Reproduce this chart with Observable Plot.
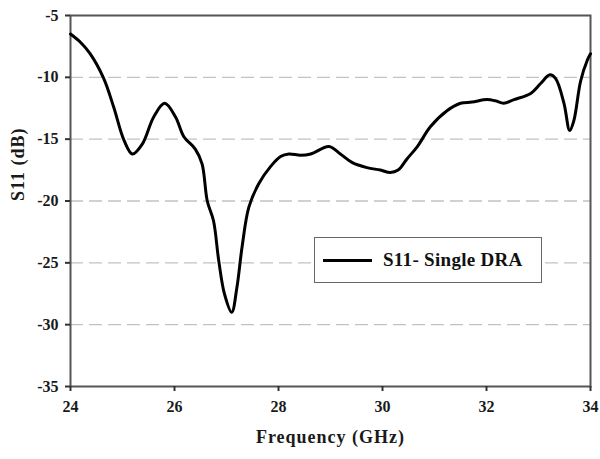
<!DOCTYPE html>
<html>
<head>
<meta charset="utf-8">
<script src="https://cdn.jsdelivr.net/npm/d3@7"></script>
<script src="https://cdn.jsdelivr.net/npm/@observablehq/plot@0.6"></script>
<style>
  html, body { margin: 0; padding: 0; background: #fff; }
  #wrap { position: relative; width: 600px; height: 459px; }
  #legend {
    position: absolute; left: 314px; top: 237px; width: 228px; height: 46px;
    border: 1.5px solid #666; background: #fff; box-sizing: border-box;
    font-family: "Liberation Serif", "Times New Roman", serif; font-weight: bold;
    font-size: 19px; letter-spacing: 0.3px; color: #111; display: flex; align-items: center;
  }
  #legend .sw { width: 49px; height: 0; border-top: 3px solid #000; margin-left: 8px; margin-right: 11px; }
</style>
</head>
<body>
<div id="wrap"></div>
<script>
const freq = [24.0, 24.2, 24.38, 24.64, 24.83, 25.03, 25.19, 25.38, 25.6, 25.81, 26.02, 26.18, 26.4, 26.53, 26.63, 26.75, 26.85, 26.96, 27.1, 27.2, 27.3, 27.43, 27.62, 27.85, 28.04, 28.2, 28.42, 28.62, 28.97, 29.19, 29.42, 29.7, 29.96, 30.15, 30.3, 30.47, 30.67, 30.92, 31.24, 31.5, 31.72, 32.01, 32.17, 32.33, 32.53, 32.85, 33.04, 33.22, 33.33, 33.49, 33.6, 33.68, 33.81, 33.94, 34.0];
const s11 = [-6.5, -7.2, -8.1, -10.1, -12.4, -15.1, -16.2, -15.4, -13.2, -12.1, -13.2, -14.8, -15.8, -17.0, -20.0, -21.6, -24.8, -27.5, -29.0, -27.0, -23.7, -20.5, -18.6, -17.2, -16.4, -16.2, -16.3, -16.2, -15.6, -16.2, -16.9, -17.3, -17.5, -17.7, -17.5, -16.6, -15.6, -14.0, -12.7, -12.1, -12.0, -11.8, -11.9, -12.1, -11.8, -11.3, -10.5, -9.8, -10.1, -12.1, -14.3, -13.5, -10.3, -8.6, -8.1];
const xTicks = [24, 26, 28, 30, 32, 34];
const yTicks = [-35, -30, -25, -20, -15, -10, -5];
const gridLines = [-30, -25, -20, -15, -10];
const xLabel = "Frequency (GHz)";
const yLabel = "S11 (dB)";
const seriesName = "S11- Single DRA";

const data = freq.map((f, i) => ({f, v: s11[i]}));
const font = "'Liberation Serif', 'Times New Roman', serif";
const fmt = d => String(d);

const chart = Plot.plot({
  width: 600,
  height: 459,
  marginLeft: 70,
  marginRight: 10,
  marginTop: 15,
  marginBottom: 73,
  style: {fontFamily: font, fontWeight: "bold", fontSize: "16px", color: "#1a1a1a", background: "#fff"},
  x: {domain: [24, 34], label: null},
  y: {domain: [-35, -5], label: null},
  marks: [
    Plot.ruleY(gridLines, {stroke: "#c2c2c2", strokeWidth: 1.3, strokeDasharray: "13,6"}),
    Plot.frame({stroke: "#555", strokeWidth: 2}),
    Plot.axisX({ticks: xTicks, tickFormat: fmt, tickSize: 5, tickPadding: 9, stroke: "#333", strokeWidth: 2, fontSize: 16, fontWeight: "bold"}),
    Plot.axisY({ticks: yTicks, tickFormat: fmt, tickSize: 5, tickPadding: 7, stroke: "#333", strokeWidth: 2, fontSize: 16, fontWeight: "bold"}),
    Plot.line(data, {x: "f", y: "v", curve: "catmull-rom", stroke: "#000", strokeWidth: 3}),
    Plot.text([xLabel], {frameAnchor: "bottom", dy: 56, fontSize: 18, fontWeight: "bold"}),
    Plot.text([yLabel], {frameAnchor: "left", dx: -52, rotate: -90, fontSize: 18, fontWeight: "bold"})
  ]
});
const wrap = document.getElementById("wrap");
wrap.appendChild(chart);
d3.select(chart).selectAll("text").filter(function() { return this.textContent === xLabel || this.textContent === yLabel; })
  .style("letter-spacing", "1px");
const leg = document.createElement("div");
leg.id = "legend";
leg.innerHTML = `<span class="sw"></span><span>${seriesName}</span>`;
wrap.appendChild(leg);
</script>
</body>
</html>
